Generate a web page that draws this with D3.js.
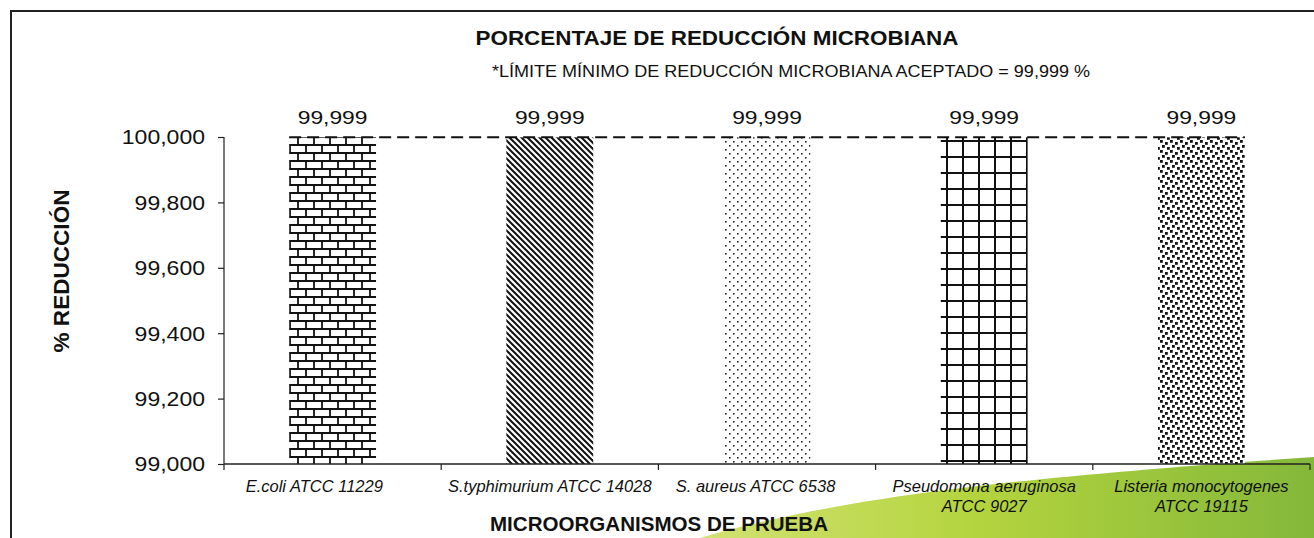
<html>
<script src='https://d3js.org/d3.v7.min.js'></script>
<style>
  body {margin: 0; background: white;}
  text {font-family: 'Liberation Sans', Arial, sans-serif; fill: #111; white-space: pre;}
</style>
<body>
<svg width=1314 height=538></svg>
<script>
// chart data
const categories = ['E.coli ATCC 11229', 'S.typhimurium ATCC 14028', 'S. aureus ATCC 6538',
                    'Pseudomona aeruginosa ATCC 9027', 'Listeria monocytogenes ATCC 19115'];
const catLines = [['E.coli ATCC 11229        '], ['S.typhimurium ATCC 14028'], ['S. aureus ATCC 6538     '],
                  ['Pseudomona aeruginosa', 'ATCC 9027'], ['Listeria monocytogenes', 'ATCC 19115']];
const reduction = [99.999, 99.999, 99.999, 99.999, 99.999];
const yTicks = [99.0, 99.2, 99.4, 99.6, 99.8, 100.0];
const limit = 99.999;

const svg = d3.select('svg');
const es = d3.formatLocale({decimal: ',', thousands: '.', grouping: [3], currency: ['', '']});
const fmt = es.format('.3f');

// the scanned original is a bit wider than plain Arial
function stretch(sel, k) {
  sel.each(function() {
    var w = this.getComputedTextLength();
    d3.select(this).attr('textLength', w * k).attr('lengthAdjust', 'spacingAndGlyphs');
  });
}

var x = d3.scaleBand().domain(categories).range([224, 1310]).paddingInner(0.6).paddingOuter(0.3);
var y = d3.scaleLinear().domain([99, 100]).range([464, 137]);

// decorative green swoosh, bottom right
var grad = svg.append('defs').append('linearGradient').attr('id', 'gr')
  .attr('x1', '0').attr('x2', '1').attr('y1', '0').attr('y2', '0');
grad.append('stop').attr('offset', '0').attr('stop-color', '#d2e272');
grad.append('stop').attr('offset', '0.45').attr('stop-color', '#b4d43e');
grad.append('stop').attr('offset', '1').attr('stop-color', '#84b83a');
svg.append('path')
  .attr('d', 'M700,538 C830,500 1000,478 1314,457 L1314,538 Z')
  .attr('fill', 'url(#gr)');

// frame
svg.append('path').attr('d', 'M11,538 L11,11 L1314,11')
  .attr('fill', 'none').attr('stroke', '#222').attr('stroke-width', 2);

// fill patterns
const defs = svg.select('defs');
function pat(id, w, h) {
  var p = defs.append('pattern').attr('id', id).attr('patternUnits', 'userSpaceOnUse')
    .attr('width', w).attr('height', h);
  p.append('rect').attr('width', w).attr('height', h).attr('fill', 'white');
  return p;
}
// bricks
var p0 = pat('p0', 16, 16);
p0.append('path').attr('d', 'M0,1 H16 M0,9 H16 M2,1 V9 M10,9 V17')
  .attr('stroke', '#111').attr('stroke-width', 1.8).attr('fill', 'none');
// diagonal stripes
var p1 = pat('p1', 6, 6);
p1.append('path').attr('d', 'M-1,-1 L7,7 M-4,2 L4,10 M2,-4 L10,4')
  .attr('stroke', '#111').attr('stroke-width', 2);
// small dots
var p2 = pat('p2', 8, 8);
p2.append('rect').attr('x', 1).attr('y', 1).attr('width', 1.6).attr('height', 1.6).attr('fill', '#222');
p2.append('rect').attr('x', 5).attr('y', 5).attr('width', 1.6).attr('height', 1.6).attr('fill', '#222');
// grid
var p3 = pat('p3', 16, 16);
p3.append('path').attr('d', 'M3,0 V16 M0,13 H16')
  .attr('stroke', '#111').attr('stroke-width', 2);
// big dots
var p4 = pat('p4', 10, 10);
[[0,0],[5,2],[2,5],[7,7]].forEach(d => {
  p4.append('rect').attr('x', d[0]).attr('y', d[1]).attr('width', 2.8).attr('height', 2.8).attr('fill', '#111');
});

// bars
svg.append('g').selectAll('rect')
  .data(reduction)
  .enter()
  .append('rect')
  .attr('x', (d, i) => x(categories[i]))
  .attr('y', d => y(d))
  .attr('width', x.bandwidth())
  .attr('height', d => y(99) - y(d))
  .attr('fill', (d, i) => 'url(#p' + i + ')');

// limit line
svg.append('line')
  .attr('x1', x(categories[0]))
  .attr('x2', x(categories[4]) + x.bandwidth())
  .attr('y1', y(limit)).attr('y2', y(limit))
  .attr('stroke', '#111').attr('stroke-width', 2).attr('stroke-dasharray', '12,6');

// value labels
svg.append('g').selectAll('text')
  .data(reduction)
  .enter()
  .append('text')
  .attr('x', (d, i) => x(categories[i]) + x.bandwidth() / 2)
  .attr('y', 124)
  .attr('text-anchor', 'middle')
  .style('font-size', '19px')
  .text(d => fmt(d))
  .call(stretch, 1.2);

// y axis
var ya = svg.append('g').attr('transform', 'translate(224,0)')
  .call(d3.axisLeft(y).tickValues(yTicks).tickFormat(fmt).tickSize(6).tickPadding(13));
ya.selectAll('text').style('font-size', '19.5px').attr('dy', '0.35em')
  .style('font-family', "'Liberation Sans', Arial, sans-serif").attr('fill', '#111')
  .call(stretch, 1.18);
ya.selectAll('line, path').attr('stroke', '#222').attr('stroke-width', 1.2);
ya.select('.domain').attr('d', 'M-6,137.5H0V464.5');

// x axis line and ticks at band edges
var xa = svg.append('g');
xa.append('line').attr('x1', 224).attr('x2', 1310).attr('y1', y(99)).attr('y2', y(99))
  .attr('stroke', '#222').attr('stroke-width', 1.5);
var edges = categories.map(c => x(c) - x.step() * x.paddingInner() / 2).concat([1310]);
xa.selectAll('.tk').data(edges).enter().append('line')
  .attr('x1', d => d).attr('x2', d => d).attr('y1', y(99)).attr('y2', y(99) + 6)
  .attr('stroke', '#222').attr('stroke-width', 1.2);

// category labels
var lab = svg.append('g').selectAll('text')
  .data(catLines)
  .enter()
  .append('text')
  .attr('x', (d, i) => x(categories[i]) + x.bandwidth() / 2)
  .attr('y', 492)
  .attr('text-anchor', 'middle')
  .style('font-size', '16.5px')
  .style('font-style', 'italic');
lab.selectAll('tspan').data(d => d).enter().append('tspan')
  .attr('x', function() { return d3.select(this.parentNode).attr('x'); })
  .attr('dy', (d, i) => i ? 20 : 0)
  .text(d => d);

// titles
svg.append('text').attr('x', 717).attr('y', 45).attr('text-anchor', 'middle')
  .attr('textLength', 483).attr('lengthAdjust', 'spacingAndGlyphs')
  .style('font-size', '21px').style('font-weight', 'bold').text('PORCENTAJE DE REDUCCIÓN MICROBIANA');
svg.append('text').attr('x', 791).attr('y', 77).attr('text-anchor', 'middle')
  .attr('textLength', 598).attr('lengthAdjust', 'spacingAndGlyphs')
  .style('font-size', '16px').text('*LÍMITE MÍNIMO DE REDUCCIÓN MICROBIANA ACEPTADO = 99,999 %');
svg.append('text').attr('x', 659).attr('y', 531).attr('text-anchor', 'middle')
  .attr('textLength', 338).attr('lengthAdjust', 'spacingAndGlyphs')
  .style('font-size', '20px').style('font-weight', 'bold').text('MICROORGANISMOS DE PRUEBA');
svg.append('text').attr('transform', 'translate(69,271) rotate(-90)').attr('text-anchor', 'middle')
  .attr('textLength', 163).attr('lengthAdjust', 'spacingAndGlyphs')
  .style('font-size', '22px').style('font-weight', 'bold').text('% REDUCCIÓN');
</script>
</body>
</html>
